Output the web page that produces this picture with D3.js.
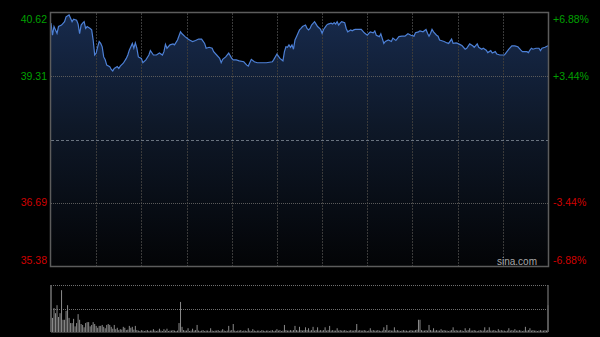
<!DOCTYPE html>
<html>
<head>
<meta charset="utf-8">
<script src="https://cdnjs.cloudflare.com/ajax/libs/d3/7.8.5/d3.min.js"></script>
<style>
  body { margin: 0; background: #000; }
  svg { display: block; }
</style>
</head>
<body>
<svg id="chart"></svg>
<script>
// intraday trace, [minute from open, price] (HK session: 330 minutes)
var priceTrace = [
  [0,40.41],[1,40.16],[2,40.34],[3,40.27],[4,40.20],[5,40.34],[7,40.37],[9,40.44],[10,40.54],[12,40.58],
  [13,40.51],[14,40.44],[15,40.49],[17,40.47],[18,40.39],[19,40.19],[20,40.37],[21,40.41],[22,40.44],[23,40.30],
  [24,40.34],[26,40.30],[27,40.27],[28,40.06],[29,39.75],[30,39.79],[31,39.92],[32,40.03],[33,39.99],[34,39.92],
  [35,39.71],[36,39.65],[37,39.54],[39,39.51],[40,39.45],[41,39.42],[42,39.47],[44,39.51],[45,39.47],[46,39.52],
  [48,39.58],[50,39.68],[51,39.75],[52,39.85],[54,39.99],[55,39.89],[56,40.00],[57,39.89],[58,39.71],[60,39.68],
  [61,39.59],[63,39.65],[65,39.75],[66,39.84],[68,39.75],[70,39.75],[72,39.79],[74,39.75],[75,39.82],[76,39.97],
  [77,39.89],[79,39.96],[81,39.98],[82,39.96],[84,40.06],[86,40.23],[87,40.19],[89,40.13],[91,40.08],[92,40.06],
  [94,40.03],[96,40.05],[98,40.08],[100,40.08],[102,39.99],[103,39.89],[105,39.91],[107,39.89],[108,39.82],[110,39.75],
  [112,39.68],[113,39.59],[114,39.66],[116,39.71],[118,39.79],[120,39.68],[121,39.65],[123,39.65],[125,39.63],[128,39.61],
  [130,39.54],[131,39.52],[133,39.66],[135,39.61],[137,39.59],[140,39.59],[143,39.59],[147,39.61],[148,39.66],[150,39.77],
  [152,39.68],[154,39.63],[155,39.82],[156,39.92],[157,39.91],[158,39.96],[159,39.91],[160,39.96],[161,39.87],[162,40.06],
  [163,40.13],[164,40.20],[165,40.27],[166,40.30],[167,40.34],[169,40.37],[170,40.30],[171,40.27],[172,40.30],[173,40.37],
  [175,40.44],[176,40.39],[177,40.34],[179,40.28],[180,40.20],[181,40.28],[183,40.37],[184,40.39],[186,40.41],[187,40.39],
  [188,40.42],[189,40.39],[190,40.44],[191,40.37],[192,40.41],[193,40.44],[195,40.42],[196,40.30],[197,40.23],[199,40.27],
  [200,40.25],[201,40.27],[202,40.28],[204,40.28],[206,40.28],[208,40.21],[210,40.16],[211,40.20],[212,40.23],[214,40.21],
  [215,40.25],[216,40.16],[218,40.13],[219,40.19],[221,39.99],[222,40.03],[224,40.06],[226,40.03],[227,40.10],[229,40.05],
  [231,40.13],[233,40.14],[235,40.14],[237,40.19],[239,40.16],[241,40.14],[242,40.21],[244,40.23],[245,40.25],[247,40.23],
  [249,40.28],[250,40.20],[251,40.14],[252,40.20],[253,40.28],[254,40.23],[256,40.16],[257,40.14],[258,40.06],[259,40.05],
  [261,40.03],[263,40.00],[264,39.99],[266,40.08],[267,39.99],[269,40.00],[270,39.99],[272,39.96],[273,39.94],[275,39.87],
  [276,39.89],[278,39.98],[280,39.94],[281,39.91],[283,39.98],[284,39.91],[286,39.87],[287,39.89],[289,39.85],[290,39.80],
  [292,39.84],[293,39.79],[295,39.82],[296,39.77],[298,39.75],[299,39.75],[301,39.75],[302,39.79],[304,39.87],[306,39.94],
  [308,39.94],[310,39.92],[312,39.85],[313,39.82],[316,39.82],[317,39.80],[318,39.85],[319,39.89],[320,39.87],[322,39.89],
  [324,39.89],[325,39.84],[326,39.89],[328,39.91],[330,39.94]
];

// volume per minute, relative units (0..330)
var volumes = [
  100,30,51,40,57,32,40,89,26,26,
  45,57,30,19,19,28,12,19,38,26,
  17,15,10,19,21,21,12,15,21,17,
  13,9,13,13,15,11,8,15,17,15,
  11,7,15,6,9,4,6,5,11,9,
  4,5,13,9,11,5,13,4,3,2,
  4,3,2,3,4,2,3,3,6,3,
  2,3,7,3,2,6,3,7,2,3,
  3,4,3,2,3,19,64,11,4,3,
  3,8,2,3,7,3,4,15,3,2,
  3,4,2,3,3,2,8,3,2,3,
  3,4,2,3,6,3,2,3,13,3,
  4,17,3,2,3,3,4,2,3,3,
  2,8,3,2,6,3,2,3,3,2,
  4,3,2,3,3,2,3,4,2,3,
  6,3,4,2,3,15,4,3,3,4,
  3,4,13,4,3,11,4,3,4,10,
  4,8,3,4,11,3,4,10,3,4,
  3,4,10,3,4,13,3,4,3,3,
  8,3,4,3,3,4,3,2,3,4,
  3,3,4,17,3,4,3,3,4,3,
  2,3,8,3,4,3,3,4,3,2,
  3,10,4,15,3,4,3,3,10,3,
  4,3,2,3,4,3,3,2,3,4,
  3,3,4,5,26,26,4,3,3,4,
  3,15,4,3,8,3,4,3,3,6,
  3,4,3,3,2,3,4,10,3,4,
  3,3,4,3,2,8,3,4,8,3,
  3,4,3,2,3,4,3,3,10,3,
  4,10,3,3,4,3,2,6,3,4,
  3,3,2,3,8,3,4,3,6,3,
  3,4,3,2,3,11,3,4,8,3,
  4,3,3,2,3,4,3,3,4,3,
  57
];

var priceTicks = [40.62, 39.31, 38.00, 36.69, 35.38];
var priceLabels = ["40.62", "39.31", "", "36.69", "35.38"];
var pctLabels = ["+6.88%", "+3.44%", "", "-3.44%", "-6.88%"];
var sessionMinutes = 330;
var volMax = 100;

var dimensions = {
  width: 600,
  height: 337,
  left: 51,
  right: 548,
  top: 13,
  bottom: 266,
  volTop: 285,
  volBottom: 332
};

var svg = d3.select("#chart")
  .attr("width", dimensions.width)
  .attr("height", dimensions.height)
  .style("background", "#000");

var x = d3.scaleLinear()
  .domain([0, sessionMinutes])
  .range([dimensions.left, dimensions.right]);

var y = d3.scaleLinear()
  .domain([35.38, 40.62])
  .range([dimensions.bottom, dimensions.top]);

var yVol = d3.scaleLinear()
  .domain([0, volMax])
  .range([dimensions.volBottom, dimensions.volTop]);

// gradient under the price line
var grad = svg.append("defs").append("linearGradient")
  .attr("id", "fillGrad")
  .attr("gradientUnits", "userSpaceOnUse")
  .attr("x1", 0).attr("y1", dimensions.top)
  .attr("x2", 0).attr("y2", dimensions.bottom);
grad.append("stop").attr("offset", "0%").attr("stop-color", "#172a4c");
grad.append("stop").attr("offset", "45%").attr("stop-color", "#0e1828");
grad.append("stop").attr("offset", "100%").attr("stop-color", "#030406");

var area = d3.area()
  .x(function(d) { return x(d[0]); })
  .y0(dimensions.bottom)
  .y1(function(d) { return y(d[1]); });

svg.append("path")
  .datum(priceTrace)
  .attr("d", area)
  .attr("fill", "url(#fillGrad)");

// vertical grid, every half hour
var halfHours = d3.range(30, sessionMinutes, 30);
svg.append("g")
  .selectAll("line")
  .data(halfHours)
  .enter().append("line")
    .attr("x1", function(d) { return Math.round(x(d)) + 0.5; })
    .attr("x2", function(d) { return Math.round(x(d)) + 0.5; })
    .attr("y1", dimensions.top)
    .attr("y2", dimensions.bottom)
    .attr("stroke", "#3a3a3a")
    .attr("stroke-dasharray", "2,1");

// horizontal grid
svg.append("g")
  .selectAll("line")
  .data(priceTicks.slice(1, 4))
  .enter().append("line")
    .attr("x1", dimensions.left)
    .attr("x2", dimensions.right)
    .attr("y1", function(d) { return Math.round(y(d)) + 0.5; })
    .attr("y2", function(d) { return Math.round(y(d)) + 0.5; })
    .attr("stroke", function(d, i) { return i == 1 ? "#6a7480" : "#5a5a5a"; })
    .attr("stroke-dasharray", function(d, i) { return i == 1 ? "3,2" : "1,1"; });

svg.append("path")
  .datum(priceTrace)
  .attr("d", d3.line()
    .x(function(d) { return x(d[0]); })
    .y(function(d) { return y(d[1]); }))
  .attr("fill", "none")
  .attr("stroke", "#4d80d6")
  .attr("stroke-width", 1.2);

// frame
svg.append("rect")
  .attr("x", dimensions.left - 0.5)
  .attr("y", dimensions.top - 0.5)
  .attr("width", dimensions.right - dimensions.left + 1)
  .attr("height", dimensions.bottom - dimensions.top + 1)
  .attr("fill", "none")
  .attr("stroke", "#5c5c5c")
  .attr("stroke-width", 1.5);

// price labels left, percent labels right
svg.append("g")
  .selectAll("text")
  .data(priceTicks)
  .enter().append("text")
    .text(function(d, i) { return priceLabels[i]; })
    .attr("x", dimensions.left - 4)
    .attr("y", function(d, i) {
      var yy = y(d);
      if (i == 0) yy += 6;
      if (i == priceTicks.length - 1) yy -= 6;
      return yy;
    })
    .attr("dy", "0.35em")
    .attr("text-anchor", "end")
    .attr("font-family", "Liberation Sans, Arial, sans-serif")
    .attr("font-size", "10.5px")
    .attr("fill", function(d) { return d > 38 ? "#00a000" : "#d00000"; });

svg.append("g")
  .selectAll("text")
  .data(priceTicks)
  .enter().append("text")
    .text(function(d, i) { return pctLabels[i]; })
    .attr("x", dimensions.right + 5)
    .attr("y", function(d, i) {
      var yy = y(d);
      if (i == 0) yy += 6;
      if (i == priceTicks.length - 1) yy -= 6;
      return yy;
    })
    .attr("dy", "0.35em")
    .attr("text-anchor", "start")
    .attr("font-family", "Liberation Sans, Arial, sans-serif")
    .attr("font-size", "10.5px")
    .attr("fill", function(d) { return d > 38 ? "#00a000" : "#d00000"; });

svg.append("text")
  .text("sina.com")
  .attr("x", 537)
  .attr("y", 265)
  .attr("text-anchor", "end")
  .attr("font-family", "Liberation Sans, Arial, sans-serif")
  .attr("font-size", "10px")
  .attr("fill", "#a8a8a8");

// volume panel
svg.append("g")
  .selectAll("line")
  .data([volMax, volMax / 2])
  .enter().append("line")
    .attr("x1", dimensions.left)
    .attr("x2", dimensions.right)
    .attr("y1", function(d) { return Math.round(yVol(d)) + 0.5; })
    .attr("y2", function(d) { return Math.round(yVol(d)) + 0.5; })
    .attr("stroke", "#707070")
    .attr("stroke-dasharray", "1,1");

svg.append("g")
  .selectAll("rect")
  .data(volumes)
  .enter().append("rect")
    .attr("x", function(d, i) { return x(i) - 0.5; })
    .attr("y", function(d) { return yVol(d); })
    .attr("width", 1)
    .attr("height", function(d) { return dimensions.volBottom - yVol(d); })
    .attr("fill", "#8a8a8a");

svg.append("g")
  .selectAll("line")
  .data([dimensions.left, dimensions.right])
  .enter().append("line")
    .attr("x1", function(d) { return d; })
    .attr("x2", function(d) { return d; })
    .attr("y1", dimensions.volTop)
    .attr("y2", dimensions.volBottom)
    .attr("stroke", "#5c5c5c")
    .attr("stroke-width", 1.5);

svg.append("line")
  .attr("x1", dimensions.left)
  .attr("x2", dimensions.right)
  .attr("y1", dimensions.volBottom + 0.5)
  .attr("y2", dimensions.volBottom + 0.5)
  .attr("stroke", "#3a3a3a");
</script>
</body>
</html>
